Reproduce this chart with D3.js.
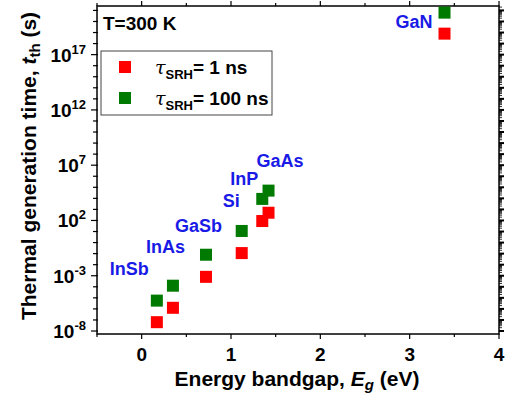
<!DOCTYPE html>
<html>
<head>
<meta charset="utf-8">
<script src="https://cdn.jsdelivr.net/npm/d3@7"></script>
<style>
  body { margin: 0; background: #fff; }
  svg { font-family: "Liberation Sans", Arial, sans-serif; font-weight: bold; }
</style>
</head>
<body>
<svg id="chart"></svg>
<script>
const WIDTH = 513
const HEIGHT = 399
const MARGIN = { left: 97, top: 6, right: 14, bottom: 65 }

// materials, bandgap (eV) and log10 of t_th (s)
const materials = ["InSb", "InAs", "GaSb", "Si", "InP", "GaAs", "GaN"]
const bandgap = [0.17, 0.35, 0.72, 1.12, 1.35, 1.42, 3.39]
const logT1ns = [-7.2, -5.9, -3.1, -0.95, 1.95, 2.7, 18.9]
const logT100ns = [-5.25, -3.9, -1.1, 1.05, 3.95, 4.7, 20.8]
const xTicks = [0, 1, 2, 3, 4]
const yTickExp = [-8, -3, 2, 7, 12, 17]

// where the blue names sit, in px from the green marker
const labelOffsets = [[-47, -26], [-27, -33], [-31, -23], [-19, -24], [-32, -14], [-12, -24], [-49, 15]]

const RED = "#ff0000"
const GREEN = "#007a00"
const BLUE = "#1a1ae6"
const SQ = 12

const svg = d3.select("#chart").attr("width", WIDTH).attr("height", HEIGHT)

const x = d3.scaleLinear().domain([-0.5, 4]).range([MARGIN.left, WIDTH - MARGIN.right])
const y = d3.scaleLog().domain([Math.pow(10, -8.27), Math.pow(10, 21.4)]).range([HEIGHT - MARGIN.bottom, MARGIN.top])

const x0 = x.range()[0], x1 = x.range()[1]
const y0 = y.range()[0], y1 = y.range()[1]

// tick marks
let ticks = svg.append("g").attr("stroke", "#000").attr("stroke-width", 1.2)
for (let v = -0.5; v <= 4.001; v += 0.5) {
  let major = Math.abs(v - Math.round(v)) < 1e-6
  ticks.append("line").attr("x1", x(v)).attr("x2", x(v)).attr("y1", y0).attr("y2", y0 + (major ? 5 : 3))
  ticks.append("line").attr("x1", x(v)).attr("x2", x(v)).attr("y1", y1).attr("y2", y1 - (major ? 5 : 3))
}
for (let e = -8; e <= 21; e++) {
  let major = yTickExp.includes(e)
  ticks.append("line").attr("x1", x0 - (major ? 6 : 4)).attr("x2", x0 + 1).attr("y1", y(Math.pow(10, e))).attr("y2", y(Math.pow(10, e)))
  ticks.append("line").attr("x1", x1).attr("x2", x1 + 5).attr("y1", y(Math.pow(10, e))).attr("y2", y(Math.pow(10, e)))
    .attr("stroke-width", 2)
  for (let m = 2; m <= 9; m++) {
    let v = m * Math.pow(10, e)
    if (v > y.domain()[1]) break
    ticks.append("line").attr("x1", x1).attr("x2", x1 + 3).attr("y1", y(v)).attr("y2", y(v)).attr("stroke-width", 0.8)
  }
}

// frame
svg.append("rect")
  .attr("x", x0).attr("y", y1)
  .attr("width", x1 - x0).attr("height", y0 - y1)
  .attr("fill", "none").attr("stroke", "#000").attr("stroke-width", 1.5)

// tick labels
svg.append("g").selectAll("text").data(xTicks).enter().append("text")
  .attr("x", d => x(d)).attr("y", 361)
  .attr("text-anchor", "middle").attr("font-size", 19)
  .text(d => d)

let yLab = svg.append("g").selectAll("text").data(yTickExp).enter().append("text")
  .attr("x", 86).attr("y", d => y(Math.pow(10, d)) + 7)
  .attr("text-anchor", "end").attr("font-size", 19)
yLab.append("tspan").text("10")
yLab.append("tspan").attr("font-size", 13).attr("dy", -8).text(d => d)

// axis titles
let xt = svg.append("text").attr("x", 297).attr("y", 386).attr("text-anchor", "middle").attr("font-size", 21)
xt.append("tspan").text("Energy bandgap, ")
xt.append("tspan").attr("font-style", "italic").text("E")
xt.append("tspan").attr("font-style", "italic").attr("font-size", 15).attr("dy", 4).text("g")
xt.append("tspan").attr("dy", -4).text(" (eV)")

let yt = svg.append("text").attr("transform", "translate(36,166) rotate(-90)").attr("text-anchor", "middle").attr("font-size", 21)
yt.append("tspan").text("Thermal generation time, ")
yt.append("tspan").attr("font-style", "italic").text("t")
yt.append("tspan").attr("font-size", 15).attr("dy", 4).text("th")
yt.append("tspan").attr("dy", -4).text(" (s)")

svg.append("text").attr("x", 103).attr("y", 30).attr("font-size", 19).text("T=300 K")

// data squares
const plot = svg.append("g")
plot.selectAll(".r").data(materials).enter().append("rect").attr("class", "r")
  .attr("x", (d, i) => x(bandgap[i]) - SQ / 2).attr("y", (d, i) => y(Math.pow(10, logT1ns[i])) - SQ / 2)
  .attr("width", SQ).attr("height", SQ).attr("fill", RED)
plot.selectAll(".g").data(materials).enter().append("rect").attr("class", "g")
  .attr("x", (d, i) => x(bandgap[i]) - SQ / 2).attr("y", (d, i) => y(Math.pow(10, logT100ns[i])) - SQ / 2)
  .attr("width", SQ).attr("height", SQ).attr("fill", GREEN)

// material names
svg.append("g").selectAll("text").data(materials).enter().append("text")
  .attr("x", (d, i) => x(bandgap[i]) + labelOffsets[i][0])
  .attr("y", (d, i) => y(Math.pow(10, logT100ns[i])) + labelOffsets[i][1])
  .attr("fill", BLUE).attr("font-size", 18)
  .text(d => d)

// legend
const legend = svg.append("g")
legend.append("rect").attr("x", 101).attr("y", 51).attr("width", 171).attr("height", 64)
  .attr("fill", "#fff").attr("stroke", "#444").attr("stroke-width", 1)
const legendItems = [{ c: RED, t: "1 ns" }, { c: GREEN, t: "100 ns" }]
legendItems.forEach((it, i) => {
  let cy = 67 + i * 31
  legend.append("rect").attr("x", 125 - SQ / 2).attr("y", cy - SQ / 2).attr("width", SQ).attr("height", SQ).attr("fill", it.c)
  let t = legend.append("text").attr("x", 155).attr("y", cy + 7).attr("font-size", 19)
  t.append("tspan").attr("font-family", "DejaVu Serif").attr("font-style", "italic").attr("font-weight", "normal").text("τ")
  t.append("tspan").attr("font-size", 13).attr("dy", 5).text("SRH")
  t.append("tspan").attr("dy", -5).text("= " + it.t)
})
</script>
</body>
</html>
